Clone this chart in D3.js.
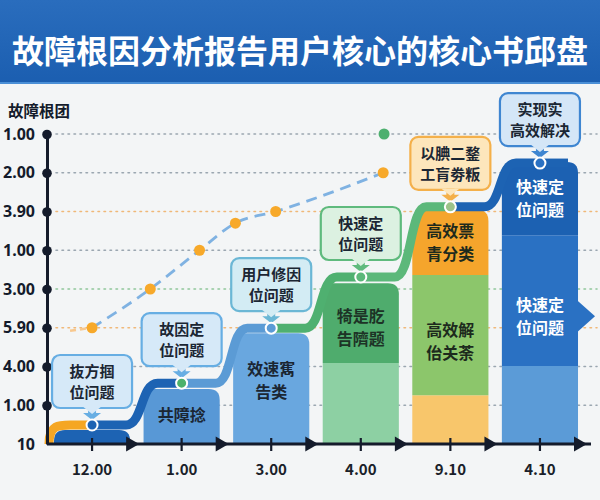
<!DOCTYPE html>
<html lang="zh">
<head>
<meta charset="UTF-8">
<title>故障根因分析报告</title>
<script src="https://cdn.jsdelivr.net/npm/d3@7/dist/d3.min.js"></script>
<style>
  * { margin: 0; padding: 0; box-sizing: border-box; }
  body { background: #f3f5f6; width: 600px; height: 500px; overflow: hidden; }
  text { font-family: 'Noto Sans CJK SC', 'Noto Sans', sans-serif; }
  .num { font-family: 'Noto Sans', 'Liberation Sans', sans-serif; font-weight: 700; }
</style>
</head>
<body>
<svg id="chart" width="600" height="500"></svg>
<script>
// ─── Data ────────────────────────────────────────────────────────────────────
const title = '故障根因分析报告用户核心的核心书邱盘';
const yTitle = '故障根团';
const categories = ['12.00', '1.00', '3.00', '4.00', '9.10', '4.10'];
// y tick labels, bottom → top (one per gridline)
const yTickLabels = ['10', '1.00', '4.00', '5.90', '3.00', '1.00', '3.90', '2.00', '1.00'];

// stacked bar tops (in gridline units), bottom → top segment
const barStacks = [
  [0.36],
  [1.42],
  [2.86],
  [2.09, 4.15],
  [1.26, 4.36, 6.04],
  [2.01, 5.39, 7.28],
];
// level of the step ribbon over each bar
const stepLevels = [0.49, 1.57, 2.99, 4.31, 6.12, 7.25];

// text inside bars: value where the block sits + its lines
const barTexts = [
  [],
  [{ at: 0.75, lines: ['共障捻'] }],
  [{ at: 1.65, lines: ['效速寯', '告类'] }],
  [{ at: 3.0, lines: ['犄是肐', '告隮题'] }],
  [{ at: 5.2, lines: ['高效票', '青分类'] }, { at: 2.65, lines: ['高效解', '佁关荼'] }],
  [{ at: 6.33, lines: ['快速定', '位问题'] }, { at: 3.3, lines: ['快速定', '位问题'] }],
];

const calloutLines = [
  ['抜方掴', '位问题'],
  ['故因定', '位问题'],
  ['用户修因', '位问题'],
  ['快速定', '位问题'],
  ['以腆二鍪', '工肓劵粄'],
  ['实现实', '高效解决'],
];

// dashed trend line (x in category index units, y in gridline units)
const trendX = [0, 0.65, 1.2, 1.6, 2.05, 3.25];
const trendY = [3.0, 4.0, 5.0, 5.7, 6.0, 7.0];
const peakX = 3.26, peakY = 8;

// ─── Styles ──────────────────────────────────────────────────────────────────
const barColors = [
  ['#1d63b3'],
  ['#5898d6'],
  ['#69a7df'],
  ['#8dd0a3', '#4fac6d'],
  ['#f8c66b', '#8cc66b', '#f5a52c'],
  ['#5b9bd7', '#2a71c3', '#1c61b2'],
];
const barTextColor = ['#1b2633', '#1b2633', '#1b2633', '#1d3326', '#1d2a1d', '#ffffff'];
const ribbonColors = ['#1d63b3', '#5b9bd5', '#4fb070', '#5cb87a', '#1d63b3'];
const dotColors = ['#1d63b3', '#4cb26c', '#5b9bd5', '#5cb87a', '#9cc38a', '#2a71c3'];
const calloutFill = ['#d6e9f8', '#d6e9f8', '#d3ecf4', '#dcf1e1', '#fde6bb', '#d4e6f7'];
const calloutStroke = ['#67aee3', '#67aee3', '#6bb7d5', '#5fba7d', '#f4b04a', '#3f86d1'];
const gridColors = ['#9aa6b0', '#9aa6b0', '#9aa6b0', '#f0b878', '#8fc69a', '#9aa6b0', '#f0b878', '#9aa6b0', '#9aa6b0'];

// ─── Scales ──────────────────────────────────────────────────────────────────
const svg = d3.select('#chart');
const x = d3.scaleBand().domain(categories).range([47, 585]).paddingInner(0.15).paddingOuter(0.078);
const bw = x.bandwidth();
const xc = i => x(categories[i]) + bw / 2;
const xLin = d3.scaleLinear().domain([0, categories.length - 1]).range([xc(0), xc(categories.length - 1)]);
const y = d3.scaleLinear().domain([0, yTickLabels.length - 1]).range([444, 134]);

// ─── Title bar ───────────────────────────────────────────────────────────────
svg.append('rect').attr('width', 600).attr('height', 500).attr('fill', '#f3f5f6');
const grad = svg.append('defs').append('linearGradient').attr('id', 'tb').attr('x1', 0).attr('y1', 0).attr('x2', 0).attr('y2', 1);
grad.append('stop').attr('offset', '0%').attr('stop-color', '#2a6dbd');
grad.append('stop').attr('offset', '100%').attr('stop-color', '#1b5eb0');
svg.append('rect').attr('width', 600).attr('height', 84).attr('fill', 'url(#tb)');
svg.append('rect').attr('y', 82).attr('width', 600).attr('height', 2).attr('fill', '#4a8fd6');
svg.append('text').attr('x', 300).attr('y', 63).attr('text-anchor', 'middle')
  .attr('fill', '#fff').attr('font-size', 32).attr('font-weight', 700).text(title);

// ─── Grid ────────────────────────────────────────────────────────────────────
svg.append('g').selectAll('line').data(d3.range(1, yTickLabels.length)).join('line')
  .attr('x1', 56).attr('x2', 597)
  .attr('y1', d => y(d)).attr('y2', d => y(d))
  .attr('stroke', d => gridColors[d]).attr('stroke-width', 1.6)
  .attr('stroke-dasharray', '1.5,4.5').attr('stroke-linecap', 'round');

// ─── Bars ────────────────────────────────────────────────────────────────────
function topRounded(x0, y0, w, h, r) {
  return `M${x0},${y0 + h}V${y0 + r}Q${x0},${y0} ${x0 + r},${y0}H${x0 + w - r}Q${x0 + w},${y0} ${x0 + w},${y0 + r}V${y0 + h}Z`;
}
const bars = svg.append('g');
barStacks.forEach((stack, i) => {
  const x0 = x(categories[i]);
  stack.forEach((top, j) => {
    const bottom = j === 0 ? 0 : stack[j - 1];
    const last = j === stack.length - 1;
    const yt = y(top), h = y(bottom) - y(top);
    bars.append('path')
      .attr('d', last ? topRounded(x0, yt, bw, h, 11) : `M${x0},${yt}h${bw}v${h}h${-bw}Z`)
      .attr('fill', barColors[i][j]);
  });
});
// arrow nub on the last bar
{
  const i = categories.length - 1, xr = x(categories[i]) + bw;
  const ym = y(barTexts[i][1].at);
  bars.append('path').attr('d', `M${xr - 1},${ym - 16}L${xr + 17},${ym}L${xr - 1},${ym + 16}Z`).attr('fill', '#2a71c3');
}

// bar texts, one text element per line
barTexts.forEach((blocks, i) => {
  blocks.forEach(b => {
    const n = b.lines.length;
    b.lines.forEach((s, k) => {
      svg.append('text').attr('text-anchor', 'middle')
        .attr('fill', barTextColor[i]).attr('font-size', 16).attr('font-weight', 700)
        .attr('x', xc(i)).attr('y', y(b.at) + 6 + (k - (n - 1) / 2) * 23).text(s);
    });
  });
});

// ─── Step ribbon ─────────────────────────────────────────────────────────────
const sgrad = svg.select('defs').append('linearGradient').attr('id', 'seg2')
  .attr('gradientUnits', 'userSpaceOnUse')
  .attr('x1', xc(2) + 30).attr('x2', xc(3) - 20).attr('y1', 0).attr('y2', 0);
sgrad.append('stop').attr('offset', '0%').attr('stop-color', '#5b9bd5');
sgrad.append('stop').attr('offset', '45%').attr('stop-color', '#5b9bd5');
sgrad.append('stop').attr('offset', '60%').attr('stop-color', '#f5a623');
sgrad.append('stop').attr('offset', '100%').attr('stop-color', '#f5a623');

const ribbon = svg.append('g').attr('fill', 'none').attr('stroke-width', 9);
{
  const l0 = y(stepLevels[0]), x0 = x(categories[0]) - 5;
  ribbon.append('path')
    .attr('d', `M${x0},${y(0)}C${x0},${l0 - 2} ${x0 + 12},${l0} ${x0 + 26},${l0}H${xc(0)}`)
    .attr('stroke', '#f5a623');
}
for (let i = 0; i < categories.length - 1; i++) {
  const x0 = xc(i), x1 = xc(i + 1);
  const l0 = y(stepLevels[i]), l1 = y(stepLevels[i + 1]);
  const a = x0 + 34, b = x1 - 24;
  ribbon.append('path')
    .attr('d', `M${x0},${l0}H${a}C${a + 17},${l0} ${b - 17},${l1} ${b},${l1}H${x1}`)
    .attr('stroke', i === 1 ? 'url(#seg2)' : ribbonColors[i]);
}
{
  const i = categories.length - 1;
  ribbon.append('path')
    .attr('d', `M${xc(i)},${y(stepLevels[i])}H${x(categories[i]) + bw - 10}`)
    .attr('stroke', '#1d63b3');
}

// ─── Trend line ──────────────────────────────────────────────────────────────
const trendPts = trendX.map((v, i) => [xLin(v), y(trendY[i])]);
svg.append('path')
  .attr('d', `M${trendPts[0][0] - 22},${trendPts[0][1] + 3}L${trendPts[0][0]},${trendPts[0][1]}`)
  .attr('fill', 'none').attr('stroke', '#f8c88e').attr('stroke-width', 2.5).attr('stroke-dasharray', '6,4');
svg.append('path')
  .attr('d', d3.line().curve(d3.curveMonotoneX)(trendPts))
  .attr('fill', 'none').attr('stroke', '#7fb2e2').attr('stroke-width', 2.8)
  .attr('stroke-dasharray', '11,7');
svg.append('g').selectAll('circle').data(trendPts).join('circle')
  .attr('cx', d => d[0]).attr('cy', d => d[1]).attr('r', 5.5).attr('fill', '#f7a92a');
svg.append('circle').attr('cx', xLin(peakX)).attr('cy', y(peakY)).attr('r', 5.5).attr('fill', '#4db06f');

// ─── Axes ────────────────────────────────────────────────────────────────────
const yAxis = svg.append('g').attr('transform', 'translate(47,0)')
  .call(d3.axisLeft(y).tickValues(d3.range(yTickLabels.length))
    .tickFormat(i => yTickLabels[i]).tickSize(0).tickPadding(12));
yAxis.select('.domain').attr('stroke', '#141b2b').attr('stroke-width', 3);
yAxis.selectAll('text').attr('class', 'num').attr('font-size', 16).attr('fill', '#141b2b');
yAxis.selectAll('.tick').append('circle').attr('r', 4.8).attr('fill', '#141b2b');
yAxis.selectAll('.tick').filter(d => d === 0).select('circle').remove();

svg.append('text').attr('x', 8).attr('y', 117).attr('font-size', 15.5).attr('font-weight', 700)
  .attr('fill', '#141b2b').text(yTitle);

const xAxis = svg.append('g').attr('transform', `translate(0,${y(0)})`)
  .call(d3.axisBottom(x).tickSize(0).tickPadding(20));
xAxis.select('.domain').remove();
xAxis.selectAll('text').attr('font-family', "'Noto Sans', sans-serif").attr('font-weight', 600)
  .attr('font-size', 15).attr('fill', '#1a1f2a');
xAxis.selectAll('.tick').append('line').attr('y1', -6).attr('y2', 7)
  .attr('stroke', '#141b2b').attr('stroke-width', 2.2);
xAxis.insert('line', ':first-child').attr('x1', 47).attr('x2', x.range()[1] + 6)
  .attr('stroke', '#141b2b').attr('stroke-width', 3);
xAxis.selectAll('path.arr').data(categories).join('path').attr('class', 'arr')
  .attr('d', d => { const t = x(d) + bw + 9; return `M${t - 13},-7.5L${t},0L${t - 13},7.5Z`; })
  .attr('fill', '#141b2b');

// ─── Callouts ────────────────────────────────────────────────────────────────
calloutLines.forEach((lines, i) => {
  const g = svg.append('g').attr('transform', `translate(${xc(i)},${y(stepLevels[i])})`);
  g.append('rect').attr('x', -40).attr('y', -70).attr('width', 80).attr('height', 53).attr('rx', 8)
    .attr('fill', calloutFill[i]).attr('stroke', calloutStroke[i]).attr('stroke-width', 2.2);
  g.append('path').attr('d', 'M-4,-18V-12H-9L0,-5L9,-12H4V-18Z').attr('fill', calloutStroke[i]);
  g.append('path').attr('d', 'M-9,-18.2L0,-11L9,-18.2Z').attr('fill', calloutFill[i]);
  lines.forEach((s, k) => g.append('text').attr('text-anchor', 'middle').attr('font-size', 15)
    .attr('font-weight', 700).attr('fill', '#1b2633')
    .attr('x', 0).attr('y', -48 + k * 21).text(s));
  g.append('circle').attr('r', 5.5).attr('fill', dotColors[i]).attr('stroke', '#fff').attr('stroke-width', 2);
});
</script>
</body>
</html>
